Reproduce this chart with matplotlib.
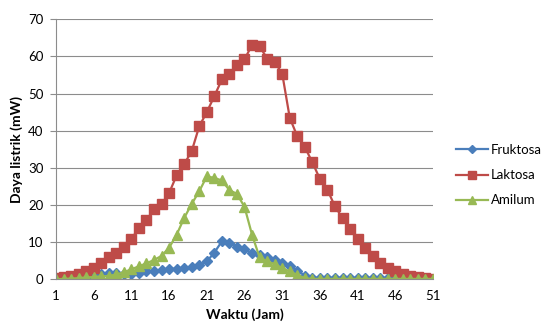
import numpy as np
import matplotlib.pyplot as plt

plt.rcParams['font.family'] = ['Lato', 'DejaVu Sans']

# data
jam = np.arange(1, 52)
fruktosa = [0.2, 0.3, 0.4, 0.5, 0.7, 1.0, 1.5, 1.8, 1.6, 1.4,
            1.5, 1.8, 2.1, 2.3, 2.5, 2.7, 2.9, 3.1, 3.4, 3.9,
            4.8, 7.2, 10.2, 9.9, 8.8, 8.1, 7.0, 6.5, 6.0, 5.3,
            4.5, 3.5, 2.3, 1.0, 0.4, 0.4, 0.4, 0.4, 0.4, 0.4,
            0.4, 0.4, 0.4, 0.4, 0.4, 0.3, 0.3, 0.3, 0.2, 0.2, 0.2]
laktosa = [0.3, 0.5, 0.9, 1.3, 2.1, 3.0, 4.3, 5.9, 7.2, 8.8,
           10.8, 13.9, 16.0, 18.8, 20.3, 23.2, 28.0, 31.0, 34.5, 41.2,
           45.0, 49.3, 53.8, 55.2, 57.6, 59.2, 63.1, 62.8, 59.4, 58.5,
           55.4, 43.5, 38.5, 35.6, 31.5, 27.0, 24.1, 19.6, 16.5, 13.5,
           10.8, 8.4, 6.3, 4.3, 3.0, 2.1, 1.4, 0.9, 0.5, 0.3, 0.2]
amilum = [0.0, 0.1, 0.2, 0.3, 0.5, 0.6, 0.8, 0.9, 1.3, 1.9,
          2.7, 3.5, 4.3, 5.2, 6.3, 8.5, 12.0, 16.5, 20.3, 23.7,
          27.7, 27.3, 26.6, 24.0, 23.0, 19.5, 12.0, 5.9, 4.8, 4.1,
          3.0, 2.1, 1.2, 0.3, 0.1, 0.1, 0.1, 0.1, 0.1, 0.1,
          0.1, 0.1, 0.1, 0.1, 0.1, 0.1, 0.1, 0.1, 0.1, 0.1, 0.1]
xticks = np.arange(1, 52, 5)
yticks = np.arange(0, 71, 10)

fig = plt.figure(figsize=(5.42, 3.26), dpi=100)
ax = fig.add_axes([0.1033, 0.1433, 0.6956, 0.7975])

ax.plot(jam, fruktosa, color='#4A7EBB', lw=1.6, marker='D', ms=5.5,
        mec='#4A7EBB', label='Fruktosa')
ax.plot(jam, laktosa, color='#BE4B48', lw=1.6, marker='s', ms=6.5,
        mec='#BE4B48', label='Laktosa')
ax.plot(jam, amilum, color='#98B954', lw=1.6, marker='^', ms=7,
        mec='#98B954', label='Amilum')

ax.set_xlim(1, 51)
ax.set_ylim(0, 70)
ax.set_xticks(xticks)
ax.set_yticks(yticks)
ax.grid(axis='y', color='#8c8c8c', lw=0.8)
ax.set_axisbelow(True)
for s in ['top', 'right']:
    ax.spines[s].set_visible(False)
ax.spines['left'].set_color('#8c8c8c')
ax.spines['bottom'].set_color('#8c8c8c')
ax.tick_params(axis='y', length=4, color='#8c8c8c', labelsize=9.5, pad=5)
ax.tick_params(axis='x', length=0, labelsize=9.5, pad=8)

ax.set_xlabel('Waktu (Jam)', fontsize=10, fontweight='bold', labelpad=4)
ax.set_ylabel('Daya listrik (mW)', fontsize=10, fontweight='bold', labelpad=4)

ax.legend(loc='center left', bbox_to_anchor=(1.03, 0.40), frameon=False,
          fontsize=9.5, handlelength=2.4, handletextpad=0.2, labelspacing=1.0,
          markerscale=0.8)

plt.savefig('out.png', dpi=100)
